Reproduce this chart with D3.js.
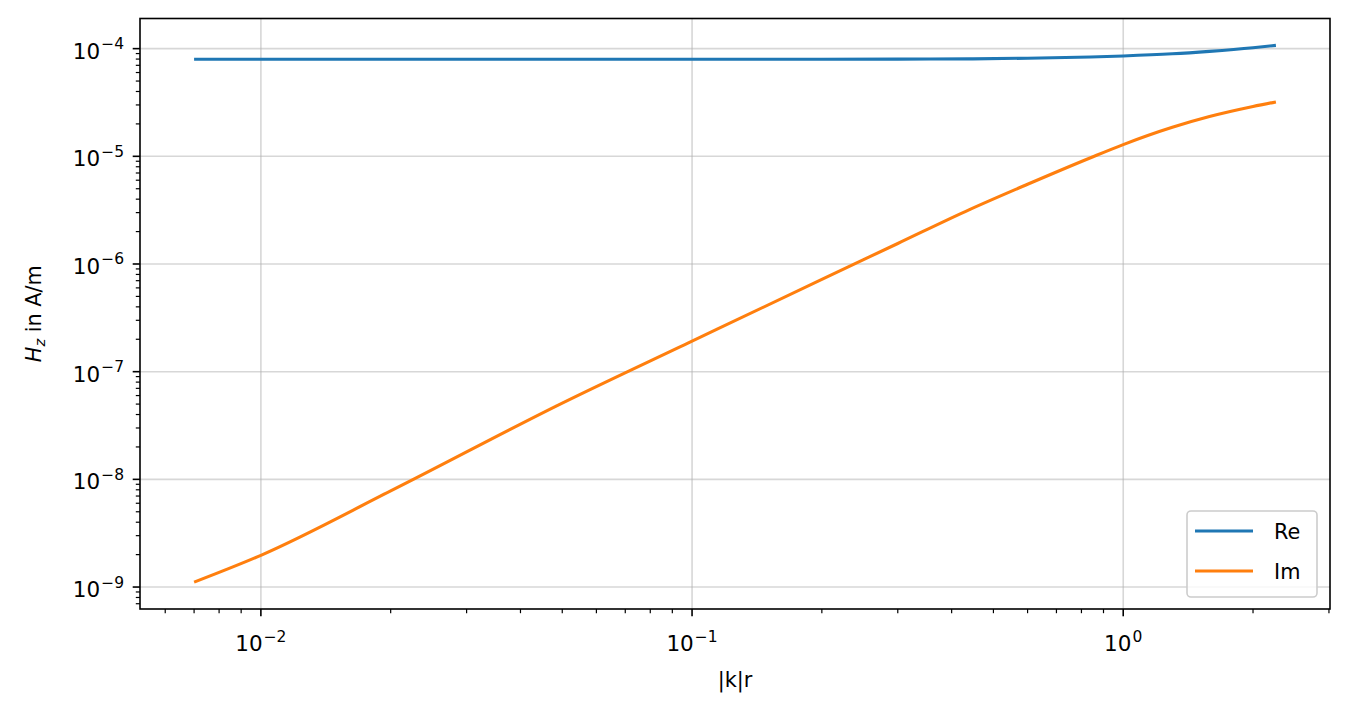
<!DOCTYPE html>
<html>
<head>
    <title>H_z over |k|r</title>
    <script src="https://d3js.org/d3.v7.min.js"></script>
    <style>
        body { margin: 0; background: #fff; }
        svg { display: block; font-family: "DejaVu Sans", sans-serif; }
    </style>
</head>
<body>
<svg width="1349" height="714"></svg>

<script>
    // values
    const kr = [0.007, 0.01, 0.02, 0.05, 0.1, 0.2, 0.3, 0.44, 0.6, 0.84, 1.0, 1.3, 1.585, 2.0, 2.26];
    const reVals = [7.96e-5, 7.96e-5, 7.96e-5, 7.96e-5, 7.96e-5, 7.97e-5, 7.99e-5, 8.03e-5, 8.15e-5, 8.37e-5, 8.55e-5, 8.95e-5, 9.44e-5, 1.02e-4, 1.073e-4];
    const imVals = [1.11e-9, 1.97e-9, 7.8e-9, 5.1e-8, 1.92e-7, 7.2e-7, 1.55e-6, 3.2e-6, 5.5e-6, 9.7e-6, 1.285e-5, 1.86e-5, 2.34e-5, 2.9e-5, 3.2e-5];
    const seriesNames = ["Re", "Im"];
    const seriesColors = ["#1f77b4", "#ff7f0e"];
    const xExponents = [-2, -1, 0];
    const yExponents = [-9, -8, -7, -6, -5, -4];

    const plotL = 140, plotR = 1330, plotT = 18.5, plotB = 609;
    const svg = d3.select("svg");

    // log domain with 5% margin like matplotlib
    const logPad = (lo, hi) => {
        const a = Math.log10(lo), b = Math.log10(hi), p = (b - a) * 0.05;
        return [Math.pow(10, a - p), Math.pow(10, b + p)];
    };
    const allY = reVals.concat(imVals);

    const x = d3.scaleLog()
        .domain(logPad(d3.min(kr), d3.max(kr)))
        .range([plotL, plotR]);
    const y = d3.scaleLog()
        .domain(logPad(d3.min(allY), d3.max(allY)))
        .range([plotB, plotT]);

    const minorTicks = (scale) => {
        const [a, b] = scale.domain();
        const out = [];
        for (let d = Math.floor(Math.log10(a)); d <= Math.ceil(Math.log10(b)); d++) {
            for (let k = 2; k <= 9; k++) {
                const v = k * Math.pow(10, d);
                if (v >= a && v <= b) out.push(v);
            }
        }
        return out;
    };
    const xMajor = xExponents.map(e => Math.pow(10, e));
    const yMajor = yExponents.map(e => Math.pow(10, e));

    // grid
    const grid = svg.append("g").attr("stroke", "#b0b0b0").attr("stroke-opacity", 0.5).attr("stroke-width", 1.6);
    grid.selectAll(".gx").data(xMajor).enter().append("line")
        .attr("x1", d => x(d)).attr("x2", d => x(d))
        .attr("y1", plotT).attr("y2", plotB);
    grid.selectAll(".gy").data(yMajor).enter().append("line")
        .attr("x1", plotL).attr("x2", plotR)
        .attr("y1", d => y(d)).attr("y2", d => y(d));

    // lines
    const line = d3.line()
        .x(d => x(d[0]))
        .y(d => y(d[1]))
        .curve(d3.curveMonotoneX);

    [reVals, imVals].forEach((vals, i) => {
        svg.append("path")
            .datum(kr.map((k, j) => [k, vals[j]]))
            .attr("fill", "none")
            .attr("stroke", seriesColors[i])
            .attr("stroke-width", 3.1)
            .attr("d", line);
    });

    // ticks
    const ax = svg.append("g").attr("stroke", "black");
    ax.selectAll(".xt").data(xMajor).enter().append("line")
        .attr("x1", d => x(d)).attr("x2", d => x(d))
        .attr("y1", plotB).attr("y2", plotB + 7.3).attr("stroke-width", 1.6);
    ax.selectAll(".xm").data(minorTicks(x)).enter().append("line")
        .attr("x1", d => x(d)).attr("x2", d => x(d))
        .attr("y1", plotB).attr("y2", plotB + 4.2).attr("stroke-width", 1.2);
    ax.selectAll(".yt").data(yMajor).enter().append("line")
        .attr("x1", plotL).attr("x2", plotL - 7.3)
        .attr("y1", d => y(d)).attr("y2", d => y(d)).attr("stroke-width", 1.6);
    ax.selectAll(".ym").data(minorTicks(y)).enter().append("line")
        .attr("x1", plotL).attr("x2", plotL - 4.2)
        .attr("y1", d => y(d)).attr("y2", d => y(d)).attr("stroke-width", 1.2);

    // tick labels as 10^n
    const powerLabel = (sel, e) => {
        sel.append("tspan").text("10");
        sel.append("tspan").attr("dx", 1).attr("dy", -9.5).attr("font-size", 15.5).text(e < 0 ? "\u2212" + (-e) : String(e));
    };
    xExponents.forEach(e => {
        const t = svg.append("text")
            .attr("x", x(Math.pow(10, e)))
            .attr("y", 651)
            .attr("text-anchor", "middle")
            .attr("font-size", 21.5)
            .attr("fill", "black");
        powerLabel(t, e);
    });
    yExponents.forEach(e => {
        const t = svg.append("text")
            .attr("x", 124)
            .attr("y", y(Math.pow(10, e)) + 10)
            .attr("text-anchor", "end")
            .attr("font-size", 21.5)
            .attr("fill", "black");
        powerLabel(t, e);
    });

    // frame
    svg.append("rect")
        .attr("x", plotL).attr("y", plotT)
        .attr("width", plotR - plotL).attr("height", plotB - plotT)
        .attr("fill", "none").attr("stroke", "black").attr("stroke-width", 1.6);

    // axis labels
    svg.append("text")
        .attr("x", (plotL + plotR) / 2).attr("y", 687)
        .attr("text-anchor", "middle").attr("font-size", 20.8)
        .text("|k|r");

    const yl = svg.append("text")
        .attr("transform", "translate(41," + ((plotT + plotB) / 2) + ") rotate(-90)")
        .attr("text-anchor", "middle").attr("font-size", 20.8);
    yl.append("tspan").attr("font-style", "italic").text("H");
    yl.append("tspan").attr("font-style", "italic").attr("font-size", 14.6).attr("dy", 4).text("z");
    yl.append("tspan").attr("dy", -4).text(" in A/m");

    // legend
    const lg = svg.append("g");
    lg.append("rect")
        .attr("x", 1187).attr("y", 511).attr("width", 130).attr("height", 86)
        .attr("rx", 4).attr("fill", "white").attr("fill-opacity", 0.8)
        .attr("stroke", "#cccccc").attr("stroke-width", 1.6);
    seriesNames.forEach((name, i) => {
        const yy = 531 + i * 40;
        lg.append("line")
            .attr("x1", 1195).attr("x2", 1253)
            .attr("y1", yy).attr("y2", yy)
            .attr("stroke", seriesColors[i]).attr("stroke-width", 3.1);
        lg.append("text")
            .attr("x", 1274).attr("y", yy + 7.5)
            .attr("font-size", 20.8)
            .text(name);
    });
</script>
</body>
</html>
